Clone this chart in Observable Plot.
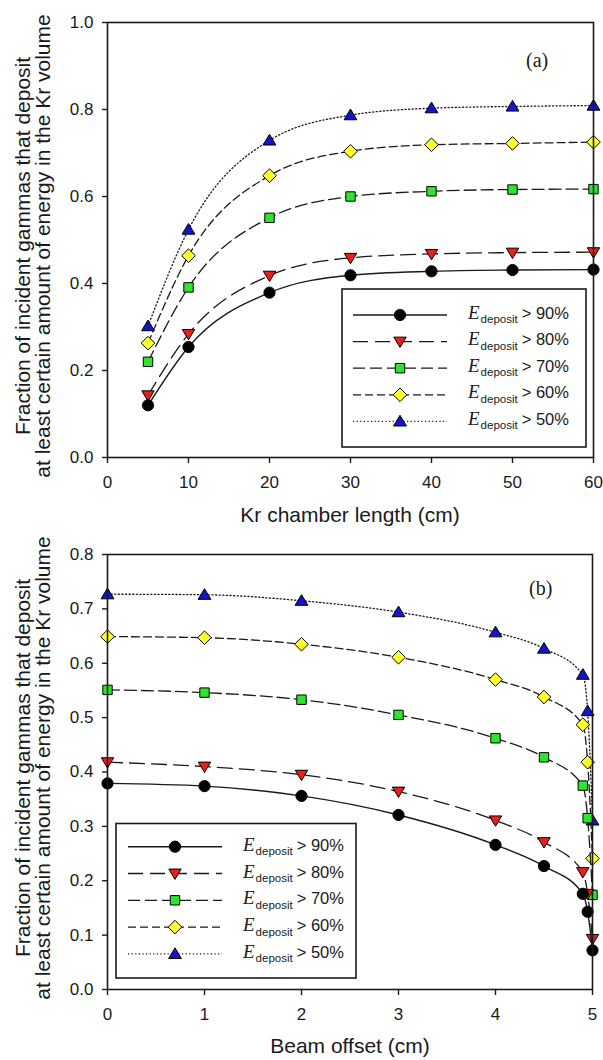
<!DOCTYPE html>
<html><head><meta charset="utf-8">
<script src="https://cdn.jsdelivr.net/npm/d3@7"></script>
<script src="https://cdn.jsdelivr.net/npm/@observablehq/plot@0.6"></script>
<style>
html,body{margin:0;padding:0;background:#fff;}
#chart{width:603px;height:1060px;}
#chart svg{display:block;}
</style></head><body><div id="chart"></div>
<script>
// ---------- data ----------
const thresholds = ["90%", "80%", "70%", "60%", "50%"];

// panel (a): Kr chamber length
const lengthCm = [5, 10, 20, 30, 40, 50, 60];
const lenE90 = [0.120, 0.254, 0.379, 0.419, 0.428, 0.431, 0.432];
const lenE80 = [0.143, 0.284, 0.418, 0.459, 0.468, 0.471, 0.472];
const lenE70 = [0.220, 0.391, 0.551, 0.600, 0.612, 0.616, 0.617];
const lenE60 = [0.263, 0.464, 0.648, 0.704, 0.719, 0.722, 0.725];
const lenE50 = [0.302, 0.524, 0.729, 0.787, 0.803, 0.807, 0.809];

// panel (b): beam offset
const offsetCm = [0, 1, 2, 3, 4, 4.5, 4.9, 4.95, 5];
const offE90 = [0.379, 0.374, 0.356, 0.321, 0.266, 0.227, 0.176, 0.143, 0.072];
const offE80 = [0.418, 0.410, 0.395, 0.364, 0.311, 0.271, 0.216, 0.176, 0.093];
const offE70 = [0.551, 0.546, 0.533, 0.505, 0.462, 0.427, 0.375, 0.315, 0.174];
const offE60 = [0.649, 0.647, 0.635, 0.611, 0.570, 0.538, 0.487, 0.418, 0.241];
const offE50 = [0.727, 0.726, 0.715, 0.694, 0.657, 0.627, 0.579, 0.512, 0.311];

const xTicksA = [0, 10, 20, 30, 40, 50, 60];
const yTicksA = [0, 0.2, 0.4, 0.6, 0.8, 1.0];
const xTicksB = [0, 1, 2, 3, 4, 5];
const yTicksB = [0, 0.1, 0.2, 0.3, 0.4, 0.5, 0.6, 0.7, 0.8];

const yTitle1 = "Fraction of incident gammas that deposit";
const yTitle2 = "at least certain amount of energy in the Kr volume";

// ---------- styles ----------
const SANS = "'Liberation Sans', Arial, sans-serif";
const SERIF = "'Liberation Serif', 'Times New Roman', serif";
const INK = "#1a1a1a";

const symCircle = {draw(c, s) { const r = Math.sqrt(s / Math.PI); c.moveTo(r, 0); c.arc(0, 0, r, 0, 2 * Math.PI); }};
const symTriDown = {draw(c, s) { const r = Math.sqrt(s / Math.PI); c.moveTo(-r, -0.72 * r); c.lineTo(r, -0.72 * r); c.lineTo(0, 0.95 * r); c.closePath(); }};
const symTriUp = {draw(c, s) { const r = Math.sqrt(s / Math.PI); c.moveTo(0, -0.95 * r); c.lineTo(r, 0.72 * r); c.lineTo(-r, 0.72 * r); c.closePath(); }};
const symSquare = {draw(c, s) { const r = Math.sqrt(s / Math.PI); c.rect(-r, -r, 2 * r, 2 * r); }};
const symDiamond = {draw(c, s) { const r = Math.sqrt(s / Math.PI); c.moveTo(0, -r); c.lineTo(r, 0); c.lineTo(0, r); c.lineTo(-r, 0); c.closePath(); }};

const styles = [
  {fill: "#000000", symbol: symCircle,   r: 5.6, dash: null,      lw: 1.4},
  {fill: "#e8201c", symbol: symTriDown,  r: 6.2, dash: "15,7",    lw: 1.3},
  {fill: "#2ee52e", symbol: symSquare,   r: 4.7, dash: "12,5",    lw: 1.3},
  {fill: "#ffff2a", symbol: symDiamond,  r: 6.8, dash: "8,4",     lw: 1.3},
  {fill: "#1414c8", symbol: symTriUp,    r: 6.4, dash: "1.2,2.4", lw: 1.3}
];

function rowsOf(xs, ys) { return xs.map((x, i) => ({x, y: ys[i]})); }

function seriesMarks(xs, seriesList) {
  const marks = [];
  // draw 50% first so that 90% is on top
  for (let i = seriesList.length - 1; i >= 0; i--) {
    const st = styles[i];
    const rows = rowsOf(xs, seriesList[i]);
    marks.push(Plot.line(rows, {x: "x", y: "y", curve: "monotone-x", stroke: INK, strokeWidth: st.lw,
      strokeDasharray: st.dash || undefined}));
    marks.push(Plot.dot(rows, {x: "x", y: "y", symbol: st.symbol, r: st.r, fill: st.fill, stroke: "#000", strokeWidth: 1}));
  }
  return marks;
}

const chart = document.getElementById("chart");

function panel(opts) {
  const p = Plot.plot({
    width: 603, height: 530,
    marginTop: opts.mt, marginBottom: opts.mb, marginLeft: 107, marginRight: opts.mr,
    style: {fontFamily: SANS, fontSize: "17px", color: INK, background: "#fff", overflow: "visible"},
    x: {domain: opts.xDomain},
    y: {domain: opts.yDomain},
    marks: [
      ...seriesMarks(opts.xs, opts.series),
      Plot.frame({stroke: INK, strokeWidth: 1.6}),
      Plot.axisX({ticks: opts.xTicks, tickFormat: d3.format("d"), tickSize: 6, tickPadding: 12, label: null, fontSize: 17, strokeWidth: 1.4}),
      Plot.axisY({ticks: opts.yTicks, tickFormat: d3.format(".1f"), tickSize: 5, tickPadding: 9, label: null, fontSize: 17, strokeWidth: 1.4})
    ]
  });
  chart.appendChild(p);
  const svg = d3.select(p);
  // axis titles
  svg.append("text").attr("x", 350).attr("y", opts.xTitleY).attr("text-anchor", "middle")
    .style("font-size", "21px").style("font-family", SANS).attr("fill", INK).text(opts.xTitle);
  const g = svg.append("g").attr("transform", `translate(0,${opts.yTitleC}) rotate(-90)`);
  g.append("text").attr("x", 0).attr("y", 30).attr("text-anchor", "middle")
    .style("font-size", "21px").style("font-family", SANS).attr("fill", INK).text(yTitle1);
  g.append("text").attr("x", 0).attr("y", 50).attr("text-anchor", "middle")
    .style("font-size", "21px").style("font-family", SANS).attr("fill", INK).text(yTitle2);
  // panel tag
  svg.append("text").attr("x", opts.tagX).attr("y", opts.tagY).attr("text-anchor", "start")
    .style("font-size", "20px").style("font-family", SERIF).attr("fill", INK).text(opts.tag);
  // legend
  const L = opts.legend;
  svg.append("rect").attr("x", L.x0).attr("y", L.y0).attr("width", L.x1 - L.x0).attr("height", L.y1 - L.y0)
    .attr("fill", "#fff").attr("stroke", INK).attr("stroke-width", 1.6);
  thresholds.forEach((t, i) => {
    const st = styles[i];
    const cy = L.row0 + i * L.dy;
    svg.append("line").attr("x1", L.lx0).attr("x2", L.lx1).attr("y1", cy).attr("y2", cy)
      .attr("stroke", INK).attr("stroke-width", st.lw).attr("stroke-dasharray", st.dash);
    svg.append("path").attr("transform", `translate(${L.mx},${cy})`)
      .attr("d", d3.symbol(st.symbol, Math.PI * st.r * st.r)())
      .attr("fill", st.fill).attr("stroke", "#000").attr("stroke-width", 1);
    const tx = svg.append("text").attr("x", L.tx).attr("y", cy + L.base).attr("fill", INK)
      .attr("text-anchor", "start")
      .style("font-family", SANS).style("font-size", "16.5px");
    tx.append("tspan").style("font-family", SERIF).style("font-style", "italic").style("font-size", "19px").text("E");
    tx.append("tspan").style("font-size", "11.5px").attr("dx", 1).attr("dy", 4.5).text("deposit");
    tx.append("tspan").attr("dx", 4).attr("dy", -4.5).text("> " + t);
  });
  return p;
}

panel({
  mt: 22, mb: 73, mr: 10,
  xDomain: [0, 60], yDomain: [0, 1],
  xs: lengthCm, series: [lenE90, lenE80, lenE70, lenE60, lenE50],
  xTicks: xTicksA, yTicks: yTicksA,
  xTitle: "Kr chamber length (cm)", xTitleY: 522, yTitleC: 246,
  tag: "(a)", tagX: 526, tagY: 67,
  legend: {x0: 342, x1: 586, y0: 289, y1: 447, row0: 315, dy: 26.6, lx0: 353, lx1: 447, mx: 400, tx: 468, base: 3.5}
});
panel({
  mt: 24, mb: 71, mr: 11,
  xDomain: [0, 5], yDomain: [0, 0.8],
  xs: offsetCm, series: [offE90, offE80, offE70, offE60, offE50],
  xTicks: xTicksB, yTicks: yTicksB,
  xTitle: "Beam offset (cm)", xTitleY: 523, yTitleC: 238,
  tag: "(b)", tagX: 529, tagY: 65,
  legend: {x0: 116, x1: 356, y0: 293.5, y1: 448, row0: 316.7, dy: 26.8, lx0: 128, lx1: 222, mx: 175, tx: 243, base: 4}
});
</script></body></html>
